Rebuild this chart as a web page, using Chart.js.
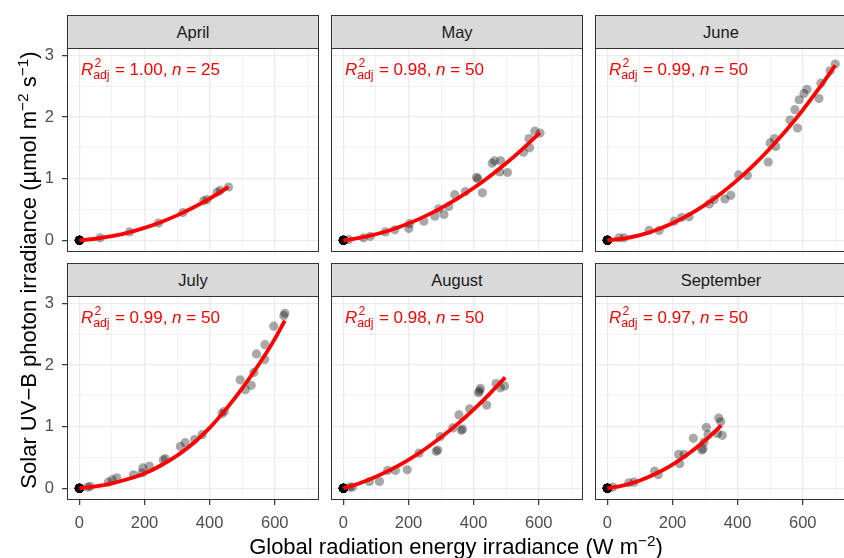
<!DOCTYPE html>
<html><head><meta charset="utf-8">
<script src="https://cdn.jsdelivr.net/npm/chart.js@4.4.0/dist/chart.umd.min.js"></script>
<style>
html,body{margin:0;padding:0;width:844px;height:558px;overflow:hidden;background:#fff;font-family:"Liberation Sans",Arial,sans-serif;}
#wrap{position:relative;width:844px;height:558px;overflow:hidden;}
canvas{position:absolute;}
.strip{position:absolute;background:#D9D9D9;border:1.3px solid #333;box-sizing:border-box;color:#1A1A1A;font-size:16.5px;text-align:center;}
.frame{position:absolute;border:1.3px solid #333;box-sizing:border-box;pointer-events:none;}
.ann{position:absolute;color:#FF0000;font-size:17px;white-space:nowrap;line-height:20px;}
.ann i{font-style:italic;}
.ann .sup{position:relative;top:-0.62em;font-size:0.72em;margin-left:0.1em;}
.ann .sub{position:relative;top:0.32em;font-size:0.72em;margin-left:-0.66em;margin-right:0.05em;}
.title{position:absolute;color:#000;font-size:22px;white-space:nowrap;text-align:center;line-height:24px;}
.title sup{font-size:0.7em;vertical-align:0.55em;line-height:0;}
</style>
</head><body><div id="wrap"></div>
<script>
// ---------- data ----------
const months = ['April','May','June','July','August','September'];
const r2adj = ['1.00','0.98','0.99','0.99','0.98','0.97'];
const nObs = ['25','50','50','50','50','50'];

const xTicks = [0,100,200,300,400,500,600,700];
const xTickLabels = [0,200,400,600];
const yTicks = [0,0.5,1,1.5,2,2.5,3];
const yTickLabels = [0,1,2,3];

const aprX = [0,0,0,0,0,0,0,0,0,0,0,0,0,0,0,0,64,154,243,318,382,392,423,433,458];
const aprY = [0,0,0,0,0,0,0,0,0,0,0,0,0,0,0,0,0.04,0.135,0.28,0.45,0.64,0.66,0.78,0.81,0.865];
const aprFitX = [0,50,100,150,200,250,300,350,400,458];
const aprFitY = [0,0.025,0.066,0.125,0.201,0.294,0.404,0.532,0.676,0.866];

const mayX = [0,0,0,0,0,0,0,0,0,0,0,0,0,0,0,0,0,0,0,0,0,0,0,16,62,83,129,158,201,203,247,281,293,309,324,342,375,409,413,427,457,464,480,483,504,553,570,572,588,604];
const mayY = [0,0,0,0,0,0,0,0,0,0,0,0,0,0,0,0,0,0,0,0,0,0,0,0.01,0.04,0.065,0.135,0.17,0.19,0.27,0.31,0.39,0.51,0.42,0.55,0.74,0.79,1.02,1.00,0.77,1.25,1.29,1.11,1.29,1.10,1.43,1.65,1.50,1.77,1.74];
const mayFitX = [0,50,100,150,200,250,300,350,400,450,500,550,604];
const mayFitY = [0,0.04,0.098,0.176,0.272,0.388,0.522,0.676,0.848,1.04,1.25,1.48,1.748];

const junX = [0,0,0,0,0,0,0,0,0,0,0,0,0,0,0,0,0,0,0,0,0,0,0,36,51,128,159,205,228,251,313,328,361,379,403,430,494,500,513,517,561,576,584,589,604,613,650,656,684,700];
const junY = [0,0,0,0,0,0,0,0,0,0,0,0,0,0,0,0,0,0,0,0,0,0,0,0.04,0.04,0.16,0.16,0.31,0.37,0.38,0.59,0.66,0.67,0.73,1.06,1.05,1.27,1.58,1.65,1.52,1.95,2.12,1.82,2.28,2.38,2.45,2.30,2.55,2.75,2.86];
const junFitX = [0,50,100,150,200,250,300,350,400,450,500,550,600,650,700];
const junFitY = [0,0.029,0.084,0.167,0.276,0.412,0.574,0.764,0.98,1.223,1.493,1.789,2.113,2.463,2.84];

const julX = [0,0,0,0,0,0,0,0,0,0,0,0,0,0,0,0,0,0,0,0,0,0,0,25,33,89,101,115,166,192,195,215,258,264,310,325,354,377,438,445,494,510,528,536,544,569,570,597,628,631];
const julY = [0,0,0,0,0,0,0,0,0,0,0,0,0,0,0,0,0,0,0,0,0,0,0,0.02,0.03,0.10,0.14,0.17,0.22,0.25,0.33,0.36,0.46,0.48,0.68,0.74,0.79,0.87,1.21,1.25,1.76,1.60,1.67,1.88,2.18,2.09,2.33,2.63,2.80,2.84];
const julFitX = [0,50,100,150,200,250,300,350,400,450,500,550,600,631];
const julFitY = [0,0.03,0.08,0.15,0.24,0.37,0.53,0.73,0.98,1.28,1.62,2.0,2.42,2.72];

const augX = [0,0,0,0,0,0,0,0,0,0,0,0,0,0,0,0,0,0,0,0,0,0,0,0,0,0,0,20,28,80,111,136,160,196,232,285,290,298,336,355,362,366,388,415,418,421,440,469,482,495];
const augY = [0,0,0,0,0,0,0,0,0,0,0,0,0,0,0,0,0,0,0,0,0,0,0,0,0,0,0,0.02,0.02,0.11,0.11,0.29,0.29,0.30,0.57,0.60,0.62,0.84,0.98,1.19,0.94,0.96,1.29,1.55,1.58,1.62,1.35,1.70,1.63,1.66];
const augFitX = [0,50,100,150,200,250,300,350,400,450,497];
const augFitY = [0,0.083,0.188,0.314,0.463,0.634,0.827,1.041,1.278,1.537,1.80];

const sepX = [0,0,0,0,0,0,0,0,0,0,0,0,0,0,0,0,0,0,0,0,0,0,0,0,0,0,0,0,0,0,0,0,17,66,82,145,156,219,222,236,264,290,294,297,304,309,338,342,348,353];
const sepY = [0,0,0,0,0,0,0,0,0,0,0,0,0,0,0,0,0,0,0,0,0,0,0,0,0,0,0,0,0,0,0,0,0.02,0.09,0.10,0.28,0.22,0.55,0.40,0.55,0.81,0.62,0.64,0.75,0.99,0.87,0.89,1.14,1.08,0.86];
const sepFitX = [0,50,100,150,200,250,300,350];
const sepFitY = [0,0.047,0.127,0.240,0.385,0.564,0.775,1.02];

const ptsX = [aprX,mayX,junX,julX,augX,sepX];
const ptsY = [aprY,mayY,junY,julY,augY,sepY];
const fitX = [aprFitX,mayFitX,junFitX,julFitX,augFitX,sepFitX];
const fitY = [aprFitY,mayFitY,junFitY,julFitY,augFitY,sepFitY];

// ---------- layout ----------
const XMIN = -38, XMAX = 736, YMIN = -0.19, YMAX = 3.12;
const colLeft = [67, 331, 595];
const panelW = 252;
const stripTop = [15, 263];
const stripBot = [48, 296];
const plotBot = [252, 500];
const L = 70, R = 20, T = 26, B = 40;

const wrap = document.getElementById('wrap');
const zip = (a,b) => a.map((v,i)=>({x:v,y:b[i]}));

months.forEach((m, i) => {
  const r = Math.floor(i/3), c = i%3;
  const left = colLeft[c], top = stripBot[r], h = plotBot[r]-stripBot[r];
  const showY = c===0, showX = r===1;
  const cv = document.createElement('canvas');
  cv.width = L + panelW + R; cv.height = T + h + B;
  cv.style.left = (left - L) + 'px'; cv.style.top = (top - T) + 'px';
  wrap.appendChild(cv);
  const tickFont = {family:'"Liberation Sans", Arial, sans-serif', size:16.5};
  const ch = new Chart(cv, {
    type:'scatter',
    data:{datasets:[
      {type:'line', data: zip(fitX[i], fitY[i]), borderColor:'#FF0000', borderWidth:3.8, pointRadius:0, cubicInterpolationMode:'monotone', fill:false, order:0},
      {type:'scatter', data: zip(ptsX[i], ptsY[i]), backgroundColor:'rgba(0,0,0,0.34)', borderWidth:0, pointRadius:4.6, order:1}
    ]},
    options:{
      responsive:false, animation:false, events:[],
      layout:{padding:{top:T, right:R, left:0, bottom:0}},
      plugins:{legend:{display:false}, tooltip:{enabled:false}},
      scales:{
        x:{type:'linear', min:XMIN, max:XMAX,
          afterBuildTicks: s => { s.ticks = xTicks.map(v=>({value:v})); },
          afterFit: s => { s.height = B; },
          ticks:{display:showX, autoSkip:false, maxRotation:0, padding:9, color:'#4D4D4D', font:tickFont,
            callback: v => xTickLabels.includes(v) ? String(v) : ''},
          grid:{color:'#EBEBEB', lineWidth: ctx => (ctx.tick && xTickLabels.includes(ctx.tick.value)) ? 1.3 : 0.65,
            drawTicks:showX, tickLength:5, tickWidth:1.2,
            tickColor: ctx => (ctx.tick && xTickLabels.includes(ctx.tick.value)) ? '#333333' : 'rgba(0,0,0,0)'},
          border:{display:false}},
        y:{type:'linear', min:YMIN, max:YMAX,
          afterBuildTicks: s => { s.ticks = yTicks.map(v=>({value:v})); },
          afterFit: s => { s.width = L; },
          ticks:{display:showY, autoSkip:false, padding:8, color:'#4D4D4D', font:tickFont,
            callback: v => yTickLabels.includes(v) ? String(v) : ''},
          grid:{color:'#EBEBEB', lineWidth: ctx => (ctx.tick && yTickLabels.includes(ctx.tick.value)) ? 1.3 : 0.65,
            drawTicks:showY, tickLength:5, tickWidth:1.2,
            tickColor: ctx => (ctx.tick && yTickLabels.includes(ctx.tick.value)) ? '#333333' : 'rgba(0,0,0,0)'},
          border:{display:false}}
      }
    }
  });
  const ca = ch.chartArea;
  cv.style.left = (left - ca.left) + 'px';
  cv.style.top = (top - ca.top) + 'px';

  const fr = document.createElement('div');
  fr.className = 'frame';
  fr.style.left = left+'px'; fr.style.top = stripTop[r]+'px';
  fr.style.width = panelW+'px'; fr.style.height = (plotBot[r]-stripTop[r])+'px';
  wrap.appendChild(fr);

  const st = document.createElement('div');
  st.className = 'strip';
  st.style.left = left+'px'; st.style.top = stripTop[r]+'px';
  st.style.width = panelW+'px'; st.style.height = (stripBot[r]-stripTop[r]+1)+'px';
  st.style.lineHeight = (stripBot[r]-stripTop[r]-1)+'px';
  st.textContent = m;
  wrap.appendChild(st);

  const an = document.createElement('div');
  an.className = 'ann';
  an.style.left = (left + 14) + 'px';
  an.style.top = (top + 12) + 'px';
  an.innerHTML = '<i>R</i><span class="sup">2</span><span class="sub">adj</span> = ' + r2adj[i] + ', <i>n</i> = ' + nObs[i];
  wrap.appendChild(an);
});

const xt = document.createElement('div');
xt.className = 'title';
xt.style.left = (456 - 300) + 'px'; xt.style.width = '600px'; xt.style.top = '535px';
xt.innerHTML = 'Global radiation energy irradiance (W m<sup>\u22122</sup>)';
wrap.appendChild(xt);

const yt = document.createElement('div');
yt.className = 'title';
yt.style.width = '500px'; yt.style.left = (29 - 250) + 'px'; yt.style.top = (270 - 12) + 'px';
yt.style.transform = 'rotate(-90deg)';
yt.innerHTML = 'Solar UV\u2212B photon irradiance (\u00B5mol m<sup>\u22122</sup> s<sup>\u22121</sup>)';
wrap.appendChild(yt);
</script>
</body></html>
